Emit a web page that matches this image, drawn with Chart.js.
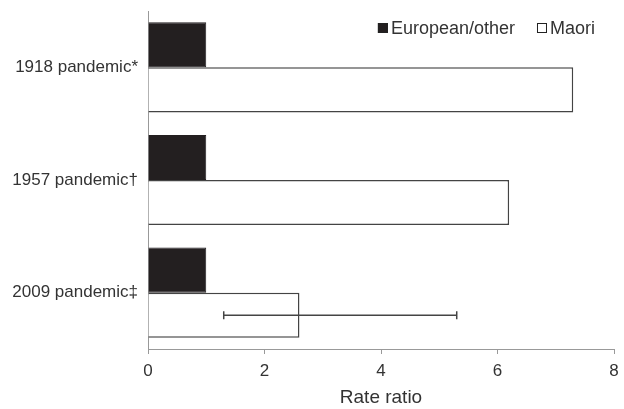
<!DOCTYPE html>
<html>
<head>
<meta charset="utf-8">
<script src="https://cdn.jsdelivr.net/npm/chart.js@4"></script>
<style>
  html, body { margin: 0; padding: 0; background: #fff; }
  #wrap { width: 624px; height: 409px; }
</style>
</head>
<body>
<div id="wrap"><canvas id="chart" width="624" height="409"></canvas></div>
<script>
const categories = ['1918 pandemic*', '1957 pandemic\u2020', '2009 pandemic\u2021'];
const europeanValues = [1, 1, 1];
const maoriValues = [7.3, 6.2, 2.6];
// 95% CI only shown for the 2009 Maori bar
const maoriErrLow = [null, null, 1.3];
const maoriErrHigh = [null, null, 5.3];

const FONT = 'Liberation Sans, Arial, sans-serif';
const TEXT = '#333';

const errorBars = {
    id: 'errorBars',
    afterDatasetsDraw(chart) {
        const ctx = chart.ctx;
        const meta = chart.getDatasetMeta(1);
        const xs = chart.scales.x;
        ctx.save();
        ctx.strokeStyle = '#444';
        ctx.lineWidth = 1.5;
        meta.data.forEach((bar, i) => {
            if (maoriErrLow[i] == null) return;
            const x1 = xs.getPixelForValue(maoriErrLow[i]);
            const x2 = xs.getPixelForValue(maoriErrHigh[i]);
            const y = bar.y;
            ctx.beginPath();
            ctx.moveTo(x1, y); ctx.lineTo(x2, y);
            ctx.moveTo(x1, y - 4); ctx.lineTo(x1, y + 4);
            ctx.moveTo(x2, y - 4); ctx.lineTo(x2, y + 4);
            ctx.stroke();
        });
        ctx.restore();
    }
};

// legend sits inside the plot, top right
const insideLegend = {
    id: 'insideLegend',
    afterDraw(chart) {
        const ctx = chart.ctx;
        const area = chart.chartArea;
        const y = area.top + 17;
        let x = area.right - 19;
        ctx.save();
        ctx.font = '18px ' + FONT;
        ctx.textBaseline = 'middle';
        const items = chart.data.datasets.slice().reverse();
        items.forEach((ds) => {
            const w = ctx.measureText(ds.label).width;
            x -= w;
            ctx.fillStyle = TEXT;
            ctx.textAlign = 'left';
            ctx.fillText(ds.label, x, y + 1);
            x -= 13;
            ctx.fillStyle = ds.backgroundColor;
            ctx.fillRect(x, y - 5, 10, 10);
            ctx.strokeStyle = '#222';
            ctx.lineWidth = 1;
            ctx.strokeRect(x + 0.5, y - 4.5, 9, 9);
            x -= 22;
        });
        ctx.restore();
    }
};

new Chart(document.getElementById('chart'), {
    type: 'bar',
    data: {
        labels: categories,
        datasets: [
            {
                label: 'European/other',
                data: europeanValues,
                backgroundColor: '#231f20',
                borderColor: '#231f20',
                borderWidth: 1
            },
            {
                label: 'Maori',
                data: maoriValues,
                backgroundColor: '#ffffff',
                borderColor: '#444',
                borderWidth: 1.5
            }
        ]
    },
    options: {
        indexAxis: 'y',
        responsive: false,
        animation: false,
        layout: { padding: { top: 11, right: 10 } },
        datasets: {
            bar: { barPercentage: 1, categoryPercentage: 0.8 }
        },
        plugins: {
            tooltip: { enabled: false },
            legend: { display: false }
        },
        scales: {
            x: {
                min: 0,
                max: 8,
                afterFit: (s) => {
                    s.height = 60;
                    s.paddingLeft = 0;
                    s.paddingRight = 0;
                },
                ticks: {
                    stepSize: 2,
                    color: TEXT,
                    padding: 7,
                    font: { family: FONT, size: 17 }
                },
                grid: { drawOnChartArea: false, tickLength: 5, color: '#999' },
                border: { color: '#999', width: 1 },
                title: {
                    display: true,
                    text: 'Rate ratio',
                    color: TEXT,
                    padding: { top: 0, bottom: 0 },
                    font: { family: FONT, size: 19 }
                }
            },
            y: {
                afterFit: (s) => {
                    s.width = 148;
                    s.paddingTop = 0;
                    s.paddingBottom = 0;
                },
                ticks: {
                    color: TEXT,
                    padding: 10,
                    font: { family: FONT, size: 17 }
                },
                grid: { drawOnChartArea: false, drawTicks: false },
                border: { color: '#999', width: 1 }
            }
        }
    },
    plugins: [errorBars, insideLegend]
});
</script>
</body>
</html>
